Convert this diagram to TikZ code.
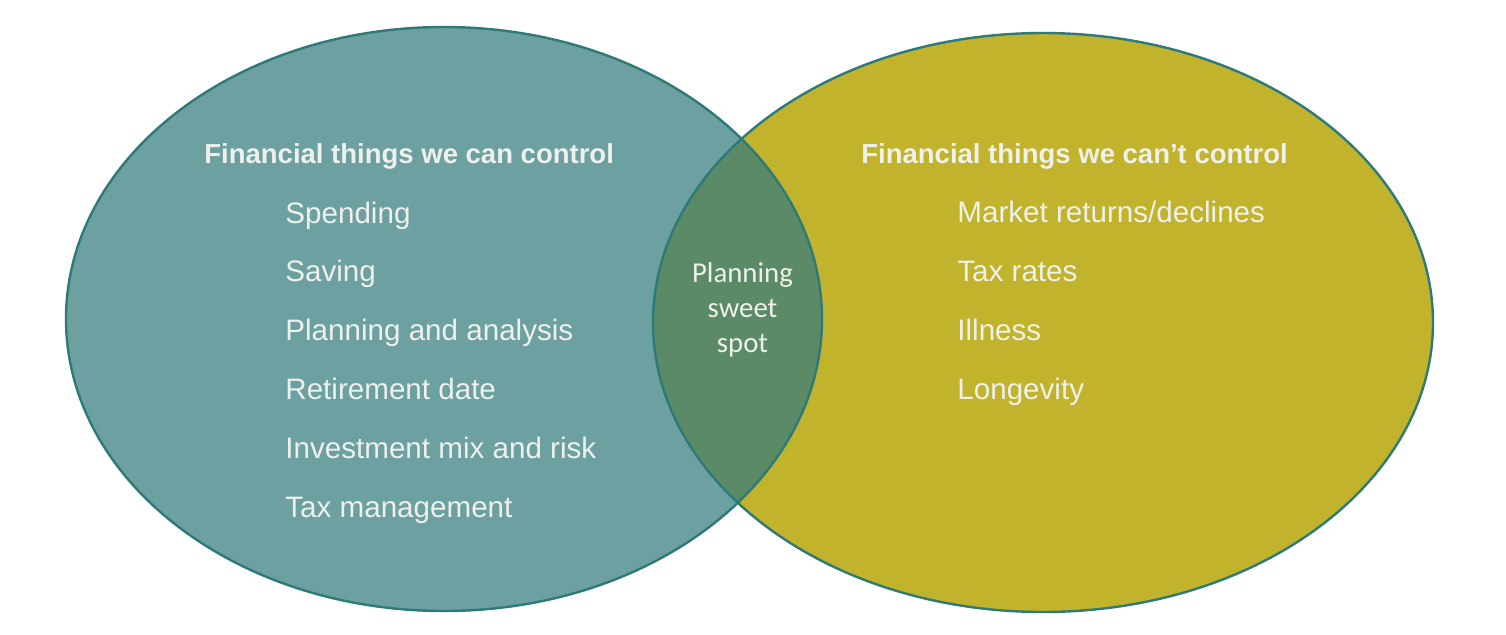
\documentclass[tikz,border=0pt]{standalone}
\usepackage{fontspec}
\setmainfont{Liberation Sans}
\newfontfamily\calib{Carlito}
\definecolor{leftfill}{HTML}{6DA0A0}
\definecolor{rightfill}{HTML}{C2B32D}
\definecolor{midfill}{HTML}{5B8A66}
\definecolor{edge}{HTML}{2E7A78}
\definecolor{txt}{HTML}{EEF0EC}
\begin{document}
\begin{tikzpicture}[x=0.5pt,y=-0.5pt,
  title/.style={anchor=base west,inner sep=0pt,text=txt,font=\fontsize{13.75}{16}\selectfont\bfseries},
  item/.style={anchor=base west,inner sep=0pt,text=txt,font=\fontsize{14.8}{17}\selectfont},
  mid/.style={anchor=base,inner sep=0pt,text=txt,font=\calib\fontsize{14.4}{18}\selectfont}]
\useasboundingbox (0,0) rectangle (1506,634);
\fill[white] (0,0) rectangle (1506,634);
\coordinate (L) at (444,319);
\coordinate (R) at (1043,322.5);
\fill[leftfill] (L) ellipse [x radius=189pt, y radius=146pt];
\fill[rightfill] (R) ellipse [x radius=195pt, y radius=144.75pt];
\begin{scope}
\clip (L) ellipse [x radius=189pt, y radius=146pt];
\fill[midfill] (R) ellipse [x radius=195pt, y radius=144.75pt];
\end{scope}
\draw[edge,line width=1.2pt] (L) ellipse [x radius=189pt, y radius=146pt];
\draw[edge,line width=1.2pt] (R) ellipse [x radius=195pt, y radius=144.75pt];

\node[title] (lt) at (204,163) {Financial things we can control};
\node[item] (l1) at (285,223) {Spending};
\node[item] (l2) at (285,281.5) {Saving};
\node[item] (l3) at (285,340) {Planning and analysis};
\node[item] (l4) at (285,399.5) {Retirement date};
\node[item] (l5) at (285,458) {Investment mix and risk};
\node[item] (l6) at (285,517) {Tax management};

\node[title] (rt) at (861,163) {Financial things we can’t control};
\node[item] (r1) at (957,222.5) {Market returns/declines};
\node[item] (r2) at (957,281.5) {Tax rates};
\node[item] (r3) at (957,340) {Illness};
\node[item] (r4) at (957,399) {Longevity};

\node[mid] (m1) at (742.5,282) {Planning};
\node[mid] (m2) at (742.5,317) {sweet};
\node[mid] (m3) at (742.5,352) {spot};
\end{tikzpicture}
\end{document}
